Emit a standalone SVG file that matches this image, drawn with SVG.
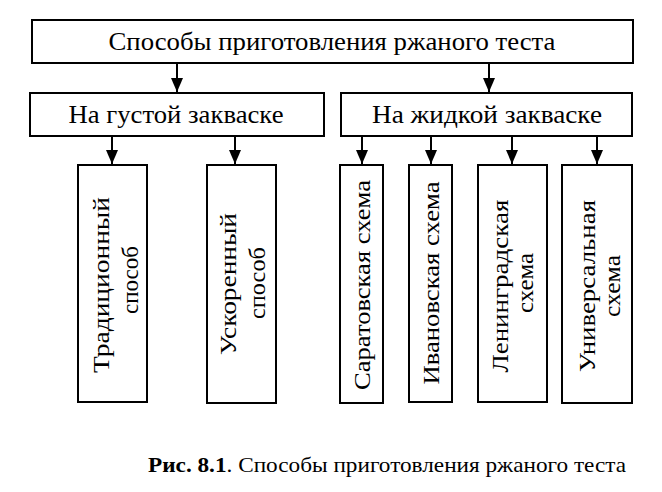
<svg xmlns="http://www.w3.org/2000/svg" width="662" height="492" viewBox="0 0 662 492">
<style>
.box{fill:#fff;stroke:#000;stroke-width:2}
.t{font-family:"Liberation Serif","Times New Roman",serif;fill:#000}
.h{font-size:25px;text-anchor:middle}
.v{font-size:24px;text-anchor:middle}
.c{font-size:22px}
.ln{stroke:#000;stroke-width:2;fill:none}
</style>
<defs>
<marker id="ah" viewBox="0 0 14 12" refX="14" refY="6" markerWidth="14" markerHeight="12" markerUnits="userSpaceOnUse" orient="auto">
<path d="M0,0 L14,6 L0,12 Z" fill="#000"/>
</marker>
</defs>
<rect width="662" height="492" fill="#fff"/>
<g id="connectors">
<line class="ln" x1="177" y1="63" x2="177" y2="92" marker-end="url(#ah)"/>
<line class="ln" x1="489" y1="63" x2="489" y2="92" marker-end="url(#ah)"/>
<line class="ln" x1="112" y1="136" x2="112" y2="164" marker-end="url(#ah)"/>
<line class="ln" x1="235" y1="136" x2="235" y2="164" marker-end="url(#ah)"/>
<line class="ln" x1="362" y1="136" x2="362" y2="164" marker-end="url(#ah)"/>
<line class="ln" x1="431" y1="136" x2="431" y2="164" marker-end="url(#ah)"/>
<line class="ln" x1="512" y1="136" x2="512" y2="164" marker-end="url(#ah)"/>
<line class="ln" x1="597" y1="136" x2="597" y2="164" marker-end="url(#ah)"/>
</g>
<g id="root">
<rect class="box" x="32" y="20" width="601" height="43"/>
<text class="t h" x="332" y="50" textLength="447" lengthAdjust="spacingAndGlyphs">Способы приготовления ржаного теста</text>
</g>
<g id="thick">
<rect class="box" x="30" y="93" width="294" height="43"/>
<text class="t h" x="176" y="123" textLength="215" lengthAdjust="spacingAndGlyphs">На густой закваске</text>
</g>
<g id="liquid">
<rect class="box" x="341" y="93" width="291" height="43"/>
<text class="t h" x="487" y="123" textLength="230" lengthAdjust="spacingAndGlyphs">На жидкой закваске</text>
</g>
<g id="traditional">
<rect class="box" x="78" y="165" width="69" height="237"/>
<text class="t v" transform="translate(109,285) rotate(-90)" textLength="176" lengthAdjust="spacingAndGlyphs">Традиционный</text>
<text class="t v" transform="translate(138,280) rotate(-90)" textLength="68" lengthAdjust="spacingAndGlyphs">способ</text>
</g>
<g id="accelerated">
<rect class="box" x="207" y="165" width="69" height="238"/>
<text class="t v" transform="translate(236,284) rotate(-90)" textLength="142" lengthAdjust="spacingAndGlyphs">Ускоренный</text>
<text class="t v" transform="translate(265,283) rotate(-90)" textLength="72" lengthAdjust="spacingAndGlyphs">способ</text>
</g>
<g id="saratov">
<rect class="box" x="340" y="165" width="43" height="238"/>
<text class="t v" transform="translate(370,285) rotate(-90)" textLength="210" lengthAdjust="spacingAndGlyphs">Саратовская схема</text>
</g>
<g id="ivanovo">
<rect class="box" x="409" y="165" width="43" height="237"/>
<text class="t v" transform="translate(439,283) rotate(-90)" textLength="203" lengthAdjust="spacingAndGlyphs">Ивановская схема</text>
</g>
<g id="leningrad">
<rect class="box" x="478" y="165" width="69" height="237"/>
<text class="t v" transform="translate(508,286) rotate(-90)" textLength="173" lengthAdjust="spacingAndGlyphs">Ленинградская</text>
<text class="t v" transform="translate(533,283) rotate(-90)" textLength="60" lengthAdjust="spacingAndGlyphs">схема</text>
</g>
<g id="universal">
<rect class="box" x="562" y="165" width="70" height="238"/>
<text class="t v" transform="translate(595,286) rotate(-90)" textLength="172" lengthAdjust="spacingAndGlyphs">Универсальная</text>
<text class="t v" transform="translate(620,286) rotate(-90)" textLength="62" lengthAdjust="spacingAndGlyphs">схема</text>
</g>
<text class="t c" x="148" y="472" textLength="478" lengthAdjust="spacingAndGlyphs"><tspan font-weight="bold">Рис. 8.1</tspan>. Способы приготовления ржаного теста</text>
</svg>
